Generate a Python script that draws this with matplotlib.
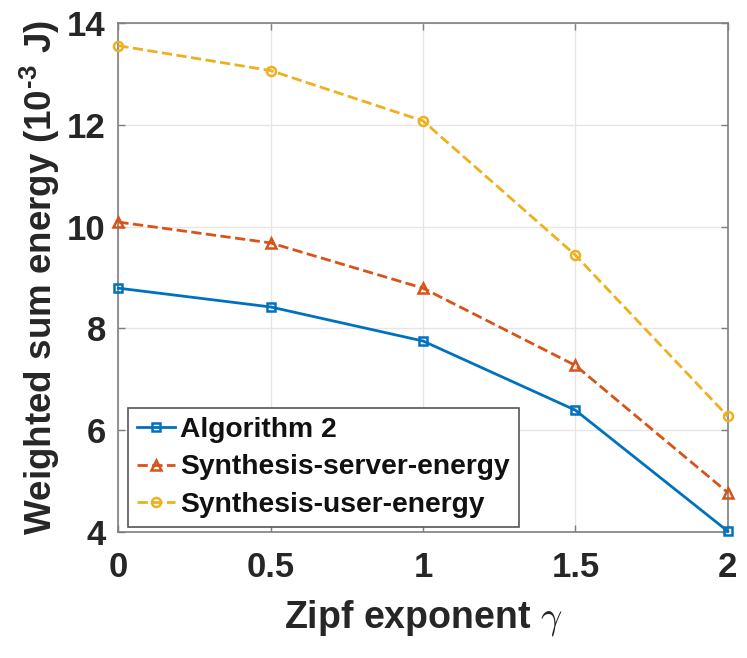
import matplotlib
matplotlib.use("Agg")
import matplotlib.pyplot as plt

x = [0, 0.5, 1, 1.5, 2]
alg2 = [8.79, 8.42, 7.75, 6.39, 4.01]
server = [10.09, 9.68, 8.79, 7.27, 4.77]
user = [13.56, 13.07, 12.08, 9.44, 6.27]
labels = ["Algorithm 2", "Synthesis-server-energy", "Synthesis-user-energy"]
xticks = [0, 0.5, 1, 1.5, 2]
xticklabels = ["0", "0.5", "1", "1.5", "2"]
yticks = [4, 6, 8, 10, 12, 14]

plt.rcParams['font.family'] = ['Liberation Sans', 'DejaVu Sans']
plt.rcParams['mathtext.fontset'] = 'custom'
plt.rcParams['mathtext.rm'] = 'Liberation Sans:bold'
plt.rcParams['mathtext.bf'] = 'Liberation Sans:bold'
plt.rcParams['mathtext.it'] = 'cmmi10'

fig = plt.figure(figsize=(7.47, 6.58), dpi=100)
ax = fig.add_axes([0.1584, 0.1920, 0.8158, 0.7726])

kw = dict(lw=2.0, mfc='none', mew=1.8, clip_on=False, zorder=3)
ax.plot(x, alg2, '-', color='#0072BD', marker='s', ms=5.5, label=labels[0], **kw)
ax.plot(x, server, '--', color='#D95319', marker='^', ms=6.5, label=labels[1], **kw)
ax.plot(x, user, '--', color='#EDB120', marker='o', ms=6.5, label=labels[2], **kw)

ax.set_xlim(0, 2)
ax.set_ylim(4, 14)
ax.set_xticks(xticks)
ax.set_xticklabels(xticklabels)
ax.set_yticks(yticks)
ax.grid(True, color='#e6e6e6', lw=1.0)
ax.set_axisbelow(True)
ax.tick_params(direction='in', top=True, right=True, labelsize=25, length=5, width=1.0,
               color='#7f7f7f', labelcolor='#262626')
ax.tick_params(axis='x', pad=14)
ax.tick_params(axis='y', pad=9)
for lab in ax.get_xticklabels() + ax.get_yticklabels():
    lab.set_fontweight('bold')
for s in ax.spines.values():
    s.set_color('#7f7f7f')
    s.set_linewidth(1.2)

ax.set_xlabel(r'Zipf exponent $\gamma$', fontsize=27, fontweight='bold', labelpad=10, color='#262626')
ax.set_ylabel(r'Weighted sum energy (10$^{\text{-3}}$ J)', fontsize=26.5, fontweight='bold', labelpad=4,
              color='#262626')

leg = ax.legend(loc='lower left', bbox_to_anchor=(0.0164, 0.0098), borderaxespad=0,
                prop={'weight': 'bold', 'size': 20.3}, frameon=True, fancybox=False,
                edgecolor='#555555', framealpha=1, handlelength=1.35, handletextpad=0.2, borderpad=0.3,
                labelspacing=0.42)
leg.get_frame().set_linewidth(1.2)
for t in leg.get_texts():
    t.set_color('#111111')

fig.savefig('out.png', dpi=100)
